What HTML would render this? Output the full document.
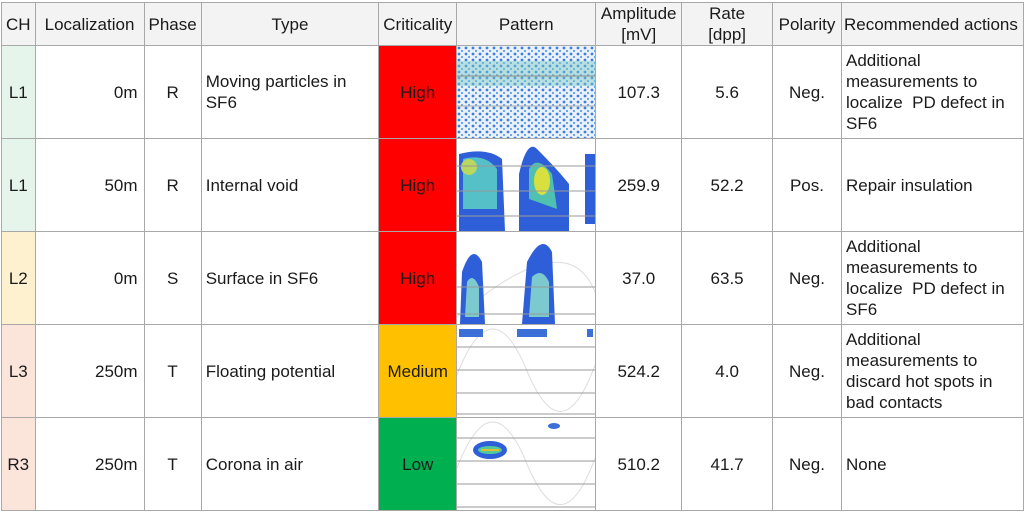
<!DOCTYPE html>
<html><head><meta charset="utf-8"><style>
html,body{margin:0;padding:0;background:#fff;width:1024px;height:516px;overflow:hidden}
table{position:absolute;left:1px;top:2px;border-collapse:collapse;table-layout:fixed;font-family:"Liberation Sans",sans-serif;font-size:17px;color:#1a1a1a}
td,th{border:1.5px solid #a8a8a8;padding:0 4px;overflow:hidden;line-height:21px}
th{background:#f3f3f3;font-weight:normal;height:42px;text-align:center}
td{height:92px}
.c{text-align:center}.r{text-align:right;padding-right:6px}.l{text-align:left}
.p{padding:0}
.g{background:#e6f5ec}.y{background:#fdf1cf}.o{background:#fbe4da}
svg{display:block}
</style></head><body>
<table>
<colgroup><col style="width:33px"><col style="width:109px"><col style="width:57px"><col style="width:178px"><col style="width:78px"><col style="width:138px"><col style="width:86px"><col style="width:91px"><col style="width:69px"><col style="width:182px"></colgroup>
<tr><th>CH</th><th>Localization</th><th>Phase</th><th>Type</th><th>Criticality</th><th>Pattern</th><th>Amplitude<br>[mV]</th><th>Rate<br>[dpp]</th><th>Polarity</th><th class="l" style="padding:0 2px;white-space:nowrap">Recommended actions</th></tr>
<tr><td class="c g">L1</td><td class="r">0m</td><td class="c">R</td><td class="l">Moving particles in SF6</td><td class="c" style="background:#ff0000">High</td>
<td class="p"><svg width="138" height="92"><defs><pattern id="d" width="7" height="6" patternUnits="userSpaceOnUse"><circle cx="2" cy="2" r="1.4" fill="#3d7fe0"/><circle cx="5" cy="5" r="1.1" fill="#5aa0e8"/></pattern></defs><rect width="138" height="92" fill="#eaf1fb"/><rect width="138" height="92" fill="url(#d)"/><rect y="15" width="138" height="25" fill="#7cc9c0" opacity=".45"/><line x1="0" y1="30" x2="138" y2="30" stroke="#888"/><line x1="0" y1="60" x2="138" y2="60" stroke="#aaa"/></svg></td>
<td class="c">107.3</td><td class="c">5.6</td><td class="c">Neg.</td><td class="l">Additional measurements to localize&nbsp; PD defect in SF6</td></tr>
<tr><td class="c g">L1</td><td class="r">50m</td><td class="c">R</td><td class="l">Internal void</td><td class="c" style="background:#ff0000">High</td>
<td class="p"><svg width="138" height="92"><rect width="138" height="92" fill="#fff"/><path d="M2 15 Q30 8 45 20 L48 92 L2 92Z" fill="#2f5fd8"/><path d="M6 20 Q28 14 40 30 L40 70 L6 70Z" fill="#55c0c8"/><ellipse cx="12" cy="28" rx="8" ry="8" fill="#b8d860"/><path d="M62 35 Q70 0 80 10 Q100 30 112 45 L112 92 L62 92Z" fill="#2f5fd8"/><path d="M72 30 Q80 15 95 35 L100 70 L72 60Z" fill="#50c0b0"/><ellipse cx="85" cy="42" rx="8" ry="14" fill="#d8e040"/><rect x="128" y="15" width="10" height="70" fill="#2f5fd8"/><line x1="0" y1="27" x2="138" y2="27" stroke="#999"/><line x1="0" y1="52" x2="138" y2="52" stroke="#999"/><line x1="0" y1="77" x2="138" y2="77" stroke="#999"/></svg></td>
<td class="c">259.9</td><td class="c">52.2</td><td class="c">Pos.</td><td class="l">Repair insulation</td></tr>
<tr><td class="c y">L2</td><td class="r">0m</td><td class="c">S</td><td class="l">Surface in SF6</td><td class="c" style="background:#ff0000">High</td>
<td class="p"><svg width="138" height="92"><rect width="138" height="92" fill="#fff"/><path d="M0 85 Q110 -10 138 60" stroke="#ddd" fill="none"/><path d="M3 92 L5 40 Q15 10 25 30 L28 92Z" fill="#2f5fd8"/><path d="M8 85 L10 50 Q16 40 22 55 L22 85Z" fill="#7cc9d0"/><path d="M65 92 L70 30 Q85 0 95 20 L98 92Z" fill="#2f5fd8"/><path d="M72 85 L75 45 Q85 35 92 50 L92 85Z" fill="#7cc9d0"/><line x1="0" y1="55" x2="138" y2="55" stroke="#999"/><line x1="0" y1="82" x2="138" y2="82" stroke="#999"/></svg></td>
<td class="c">37.0</td><td class="c">63.5</td><td class="c">Neg.</td><td class="l">Additional measurements to localize&nbsp; PD defect in SF6</td></tr>
<tr><td class="c o">L3</td><td class="r">250m</td><td class="c">T</td><td class="l">Floating potential</td><td class="c" style="background:#ffc000">Medium</td>
<td class="p"><svg width="138" height="92"><rect width="138" height="92" fill="#fff"/><path d="M0 50 Q35 -40 70 46 Q105 130 138 40" stroke="#ddd" fill="none"/><rect x="2" y="4" width="24" height="8" fill="#3d6fd8"/><rect x="60" y="4" width="30" height="8" fill="#3d6fd8"/><rect x="130" y="4" width="6" height="8" fill="#3d6fd8"/><line x1="0" y1="22" x2="138" y2="22" stroke="#999"/><line x1="0" y1="45" x2="138" y2="45" stroke="#999"/><line x1="0" y1="68" x2="138" y2="68" stroke="#999"/><line x1="0" y1="89" x2="138" y2="89" stroke="#999"/></svg></td>
<td class="c">524.2</td><td class="c">4.0</td><td class="c">Neg.</td><td class="l">Additional measurements to discard hot spots in bad contacts</td></tr>
<tr><td class="c o">R3</td><td class="r">250m</td><td class="c">T</td><td class="l">Corona in air</td><td class="c" style="background:#00b050">Low</td>
<td class="p"><svg width="138" height="92"><rect width="138" height="92" fill="#fff"/><path d="M0 50 Q35 -40 70 46 Q105 130 138 40" stroke="#ddd" fill="none"/><ellipse cx="33" cy="32" rx="17" ry="9" fill="#2f5fd8"/><ellipse cx="33" cy="32" rx="12" ry="4" fill="#50c8a0"/><rect x="24" y="31" width="18" height="2" fill="#e0c030"/><ellipse cx="97" cy="8" rx="6" ry="3" fill="#3d6fd8"/><line x1="0" y1="20" x2="138" y2="20" stroke="#999"/><line x1="0" y1="43" x2="138" y2="43" stroke="#999"/><line x1="0" y1="66" x2="138" y2="66" stroke="#999"/><line x1="0" y1="89" x2="138" y2="89" stroke="#999"/></svg></td>
<td class="c">510.2</td><td class="c">41.7</td><td class="c">Neg.</td><td class="l">None</td></tr>
</table>
</body></html>
